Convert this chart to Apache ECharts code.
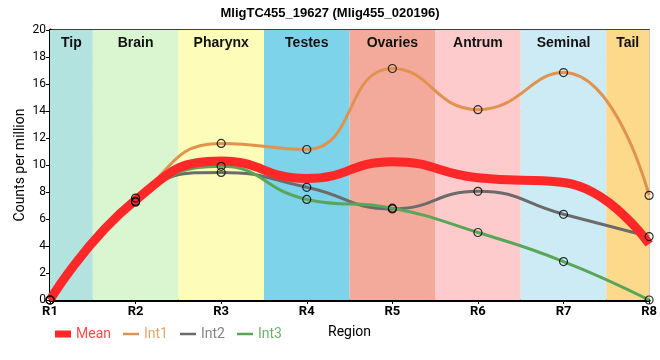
<!DOCTYPE html>
<html><head><meta charset="utf-8">
<script src="https://cdn.jsdelivr.net/npm/echarts@6/dist/echarts.min.js"></script>
<style>html,body{margin:0;padding:0;background:#fff}#c{width:660px;height:360px}</style>
</head><body><div id="c"></div>
<script>
const categories = ['R1','R2','R3','R4','R5','R6','R7','R8'];
const regions = ['Tip','Brain','Pharynx','Testes','Ovaries','Antrum','Seminal','Tail'];
const regionColors = ['#b3e3de','#d9f6d0','#fdfdb9','#7dd3ea','#f4aa9b','#fdcbcc','#cdebf5','#fdd98b'];
const meanVals = [0, 7.4, 10.3, 9.0, 10.25, 9.05, 8.7, 4.15];
const int1Vals = [0, 7.3, 11.6, 11.15, 17.15, 14.1, 16.85, 7.75];
const int2Vals = [0, 7.55, 9.45, 8.35, 6.75, 8.05, 6.35, 4.7];
const int3Vals = [0, 7.25, 9.9, 7.45, 6.8, 5.0, 2.85, 0];
const yTicks = [0,2,4,6,8,10,12,14,16,18,20];

const toXY = arr => arr.map((v,i)=>[i,v]);
const bands = regions.map((r,i)=>[
  {name:r, xAxis:Math.max(0,i-0.5), itemStyle:{color:regionColors[i],opacity:1}},
  {xAxis:Math.min(categories.length-1,i+0.5)}
]);
const thinIcon = 'path://M0,0 L16,0 L16,2.5 L0,2.5 Z';

const chart = echarts.init(document.getElementById('c'));
const lineS = (name, data, color, width, z) => ({
  name, type:'line', data:toXY(data), smooth:true, symbol:'none', z,
  lineStyle:{color, width}, itemStyle:{color}
});
const markS = (data, z) => ({
  type:'scatter', data:toXY(data), symbol:'circle', symbolSize:8, z, silent:true,
  itemStyle:{color:'rgba(0,0,0,0)', borderColor:'#000', borderWidth:1.2}
});
chart.setOption({
  animation:false,
  title:{text:'MligTC455_19627 (Mlig455_020196)', left:'center', top:2,
    textStyle:{fontSize:13, fontWeight:'bold', color:'#000', fontFamily:'Liberation Sans'}},
  grid:{left:50, right:10, top:30, bottom:60, show:true, borderColor:'#000', borderWidth:1.5},
  legend:{left:50, top:322, itemWidth:16, itemHeight:7, itemGap:12, symbolKeepAspect:true,
    textStyle:{fontSize:14, fontFamily:'Roboto'},
    data:[
      {name:'Mean', icon:'rect', textStyle:{color:'#ff4a4a'}},
      {name:'Int1', icon:thinIcon, textStyle:{color:'#e8a36a'}},
      {name:'Int2', icon:thinIcon, textStyle:{color:'#858585'}},
      {name:'Int3', icon:thinIcon, textStyle:{color:'#6db36d'}}
    ]},
  xAxis:{type:'value', min:0, max:categories.length-1, interval:1,
    name:'Region', nameLocation:'middle', nameGap:25, nameMoveOverlap:false,
    nameTextStyle:{fontSize:14, color:'#000', fontFamily:'Roboto'},
    axisLine:{lineStyle:{color:'#000', width:3}},
    axisTick:{show:true, length:4, lineStyle:{color:'#000'}},
    axisLabel:{formatter:v=>categories[v], color:'#000', fontSize:13, fontWeight:'bold', fontFamily:'Roboto', margin:5},
    splitLine:{show:true, lineStyle:{color:'#c8c8c8', width:1}}},
  yAxis:{type:'value', min:0, max:20, interval:2,
    name:'Counts per million', nameLocation:'middle', nameGap:23, nameMoveOverlap:false,
    nameTextStyle:{fontSize:14, color:'#000', fontFamily:'Roboto'},
    axisLine:{show:true, lineStyle:{color:'#000', width:3}},
    axisTick:{show:true, length:4, lineStyle:{color:'#000'}},
    axisLabel:{formatter:v=>yTicks.includes(v)?String(v):'', color:'#000', fontSize:12, fontFamily:'Roboto', margin:4},
    splitLine:{show:true, lineStyle:{color:'#c8c8c8', width:1}}},
  series:[
    {type:'line', data:[], silent:true, z:0,
      markArea:{silent:true, label:{show:true, position:'insideTop', distance:6,
        fontSize:14, fontWeight:'bold', color:'#111', fontFamily:'Liberation Sans'}, data:bands}},
    lineS('Int1', int1Vals, '#e0924f', 3, 3),
    lineS('Int2', int2Vals, '#6b6b6b', 3, 3),
    lineS('Int3', int3Vals, '#5aa55a', 3, 3),
    lineS('Mean', meanVals, '#ff2828', 9, 4),
    markS(int1Vals, 6), markS(int2Vals, 6), markS(int3Vals, 6)
  ]
});
</script></body></html>
